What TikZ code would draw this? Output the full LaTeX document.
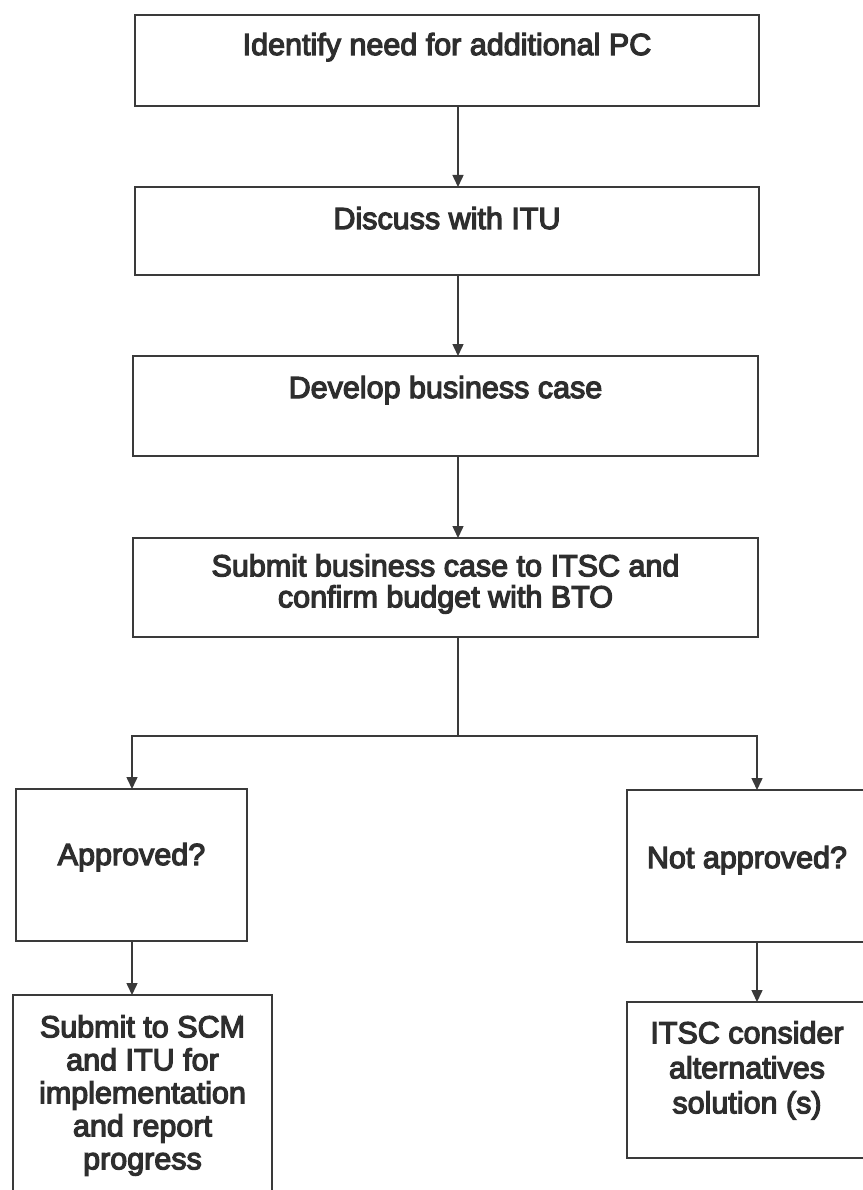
\documentclass[tikz,border=0pt]{standalone}
\usepackage{fontspec}
\setmainfont{Liberation Sans}[FakeBold=4]
\usetikzlibrary{arrows.meta}
\definecolor{ink}{HTML}{2E2E2E}
\definecolor{edgecol}{HTML}{3A3A3A}
\begin{document}
\begin{tikzpicture}[x=1pt,y=-1pt,
  box/.style={draw=edgecol, line width=1.5pt, inner sep=0pt, outer sep=0pt},
  txt/.style={text=ink, inner sep=0pt, align=center},
  flow/.style={draw=edgecol, line width=1.5pt},
  arr/.style={draw=edgecol, line width=1.5pt, -{Triangle[width=11pt,length=12pt]}}]
\useasboundingbox[fill=white] (0,0) rectangle (862,1190);
\tikzset{every node/.append style={font=\fontsize{30.5}{33}\selectfont}}
% boxes
\node[box, minimum width=624pt, minimum height=91pt] (b1) at (447,60.5) {};
\node[box, minimum width=624pt, minimum height=88pt] (b2) at (447,231) {};
\node[box, minimum width=625pt, minimum height=100pt] (b3) at (445.5,406) {};
\node[box, minimum width=625pt, minimum height=99pt] (b4) at (445.5,587.5) {};
\node[box, minimum width=231pt, minimum height=152pt] (ap) at (131.5,865) {};
\node[box, minimum width=240pt, minimum height=152pt] (na) at (747,866) {};
\node[box, minimum width=259pt, minimum height=200pt] (scm) at (142.5,1095) {};
\node[box, minimum width=240pt, minimum height=156pt] (itsc) at (747,1080) {};
% texts
\node[txt, anchor=base] (t1) at (447,55) {Identify need for additional PC};
\node[txt, anchor=base] (t2) at (447,229) {Discuss with ITU};
\node[txt, anchor=base] (t3) at (445.5,398) {Develop business case};
\node[txt, anchor=north, font=\fontsize{30.5}{31}\selectfont] (t4) at (445.5,554) {Submit business case to ITSC and\\confirm budget with BTO};
\node[txt, anchor=base] (tap) at (131.5,865) {Approved?};
\node[txt, anchor=base] (tna) at (747,868) {Not approved?};
\node[txt, anchor=north, font=\fontsize{30.5}{33}\selectfont] (tscm) at (142.5,1015) {Submit to SCM\\and ITU for\\implementation\\and report\\progress};
\node[txt, anchor=north, font=\fontsize{30.5}{35}\selectfont] (titsc) at (747,1021) {ITSC consider\\alternatives\\solution (s)};
% connectors
\coordinate (cx) at (458,0);
\coordinate (jm) at (458,736);
\coordinate (jl) at (132,736);
\coordinate (jr) at (757,736);
\draw[arr] (b1.south -| cx) -- (b2.north -| cx);
\draw[arr] (b2.south -| cx) -- (b3.north -| cx);
\draw[arr] (b3.south -| cx) -- (b4.north -| cx);
\draw[flow] (b4.south -| cx) -- (jm);
\draw[arr] (jm) -- (jl) -- (ap.north -| jl);
\draw[arr] (jm) -- (jr) -- (na.north -| jr);
\draw[arr] (ap.south -| jl) -- (scm.north -| jl);
\draw[arr] (na.south -| jr) -- (itsc.north -| jr);
\end{tikzpicture}
\end{document}
